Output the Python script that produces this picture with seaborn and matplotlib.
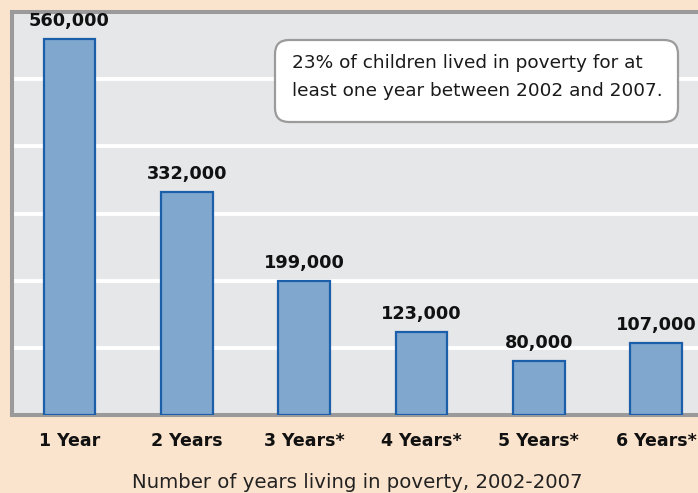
import matplotlib
matplotlib.use("Agg")
import matplotlib.pyplot as plt
import matplotlib.transforms as mtransforms
from matplotlib.patches import FancyBboxPatch
import seaborn as sns
import pandas as pd

categories = ["1 Year", "2 Years", "3 Years*", "4 Years*", "5 Years*", "6 Years*"]
children = [560000, 332000, 199000, 123000, 80000, 107000]
value_labels = ["560,000", "332,000", "199,000", "123,000", "80,000", "107,000"]
y_ticks = [0, 100000, 200000, 300000, 400000, 500000, 600000]
x_title = "Number of years living in poverty, 2002-2007"
note = "23% of children lived in poverty for at\nleast one year between 2002 and 2007."

sns.set_theme(style="white")
plt.rcParams["font.family"] = ["DejaVu Sans"]

W, H = 698, 493
BG = "#FBE4CD"
fig = plt.figure(figsize=(W / 100, H / 100), dpi=100, facecolor=BG)

left, top, bottom, right = 12, 12, 415, 712
ax = fig.add_axes([left / W, 1 - bottom / H, (right - left) / W, (bottom - top) / H])
ax.set_facecolor("#E6E7E9")

df = pd.DataFrame({"years": categories, "children": children})
sns.barplot(data=df, x="years", y="children", color="#80A8CF", edgecolor="#1B5EA9",
            linewidth=1.6, width=0.44, saturation=1, ax=ax, zorder=3)

px_per_unit = 117.3
c0 = 69.5
ax.set_xlim((left - c0) / px_per_unit, (right - c0) / px_per_unit)
ax.set_ylim(0, 600000)
ax.set_yticks(y_ticks)
ax.set_yticklabels([])
ax.set_axisbelow(True)
ax.yaxis.grid(True, color="white", linewidth=2.8)
ax.xaxis.grid(False)
ax.tick_params(axis="both", length=0)
ax.tick_params(axis="x", pad=12)
ax.set_xticks(range(len(categories)))
ax.set_xticklabels(categories, fontsize=12.5, fontweight="bold", color="#111111")
ax.set_xlabel("")
ax.set_ylabel("")

for s in ["left", "top", "bottom"]:
    ax.spines[s].set_color("#9A9A9A")
    ax.spines[s].set_linewidth(2.9)
ax.spines["right"].set_visible(False)

for i, (v, lab) in enumerate(zip(children, value_labels)):
    ax.annotate(lab, (i, v), xytext=(0, 6.5), textcoords="offset points",
                ha="center", va="bottom", fontsize=12.8, fontweight="bold",
                color="#111111", zorder=5)

box = FancyBboxPatch((275, H - 122), 403, 82, boxstyle="round,pad=0,rounding_size=14",
                     transform=mtransforms.IdentityTransform(), facecolor="white",
                     edgecolor="#9B9B9B", linewidth=1.6, zorder=10)
fig.add_artist(box)
fig.text(292 / W, 1 - 77 / H, note, ha="left", va="center", fontsize=13.3,
         color="#1A1A1A", linespacing=1.7, zorder=11)

fig.text(357 / W, 1 - 482 / H, x_title, ha="center", va="center", fontsize=14.2,
         color="#222222")

fig.savefig("out.png", dpi=100, facecolor=BG)
